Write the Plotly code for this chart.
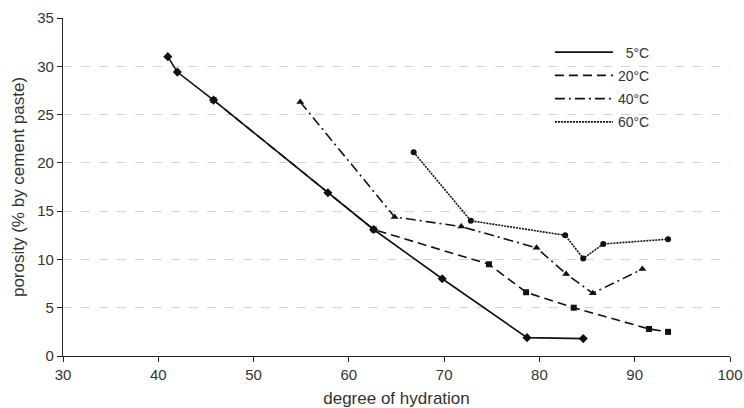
import plotly.graph_objects as go

# degree of hydration (x) and porosity (% by cement paste) for each curing temperature
hyd_5c = [41.0, 42.0, 45.8, 57.8, 62.6, 69.8, 78.7, 84.6]
por_5c = [31.0, 29.4, 26.5, 16.9, 13.1, 8.0, 1.9, 1.8]

hyd_20c = [45.8, 62.6, 74.7, 78.6, 83.6, 91.5, 93.5]
por_20c = [26.5, 13.1, 9.5, 6.6, 5.0, 2.8, 2.5]

hyd_40c = [54.9, 64.8, 71.8, 79.7, 82.8, 85.6, 90.8]
por_40c = [26.3, 14.4, 13.4, 11.2, 8.5, 6.5, 9.0]

hyd_60c = [66.8, 72.8, 82.7, 84.6, 86.7, 93.5]
por_60c = [21.1, 14.0, 12.5, 10.1, 11.6, 12.1]

x_ticks = [30, 40, 50, 60, 70, 80, 90, 100]
y_ticks = [0, 5, 10, 15, 20, 25, 30, 35]

series = [
    ("  5°C", hyd_5c, por_5c, "solid", "diamond", 7),
    ("20°C", hyd_20c, por_20c, "9px,5px", "square", 6),
    ("40°C", hyd_40c, por_40c, "10px,4px,2px,4px", "triangle-up", 7),
    ("60°C", hyd_60c, por_60c, "2px,1px", "circle", 6),
]

fig = go.Figure()
for i, (name, xs, ys, dash, sym, size) in enumerate(series):
    fig.add_trace(go.Scatter(
        x=xs, y=ys, mode="lines+markers", showlegend=False,
        line=dict(color="#111111", width=1.6, dash=dash),
        marker=dict(symbol=sym, size=size, color="#111111"),
    ))
    # line-only entry for the legend, one group each so the rows spread out
    fig.add_trace(go.Scatter(
        x=[None], y=[None], mode="lines", name=name, showlegend=True,
        legendgroup=f"g{i}",
        line=dict(color="#111111", width=1.8, dash=dash),
    ))

font = "Liberation Sans, Arial, sans-serif"
fig.update_layout(
    width=744, height=408,
    margin=dict(l=63, r=14, t=18, b=52, autoexpand=False),
    paper_bgcolor="white", plot_bgcolor="white",
    font=dict(family=font, size=15, color="#333333"),
    legend=dict(
        x=0.73, y=0.945, xanchor="left", yanchor="top",
        bgcolor="rgba(0,0,0,0)", font=dict(size=14, color="#333333"),
        itemwidth=58, tracegroupgap=2,
    ),
    xaxis=dict(
        range=[30, 100], tickvals=x_ticks, showgrid=False, zeroline=False,
        showline=True, linecolor="#222222", linewidth=1.3,
        ticks="outside", ticklen=5, tickcolor="#222222",
        ticklabeloverflow="allow", automargin=False,
        title=dict(text="degree of hydration", font=dict(size=17), standoff=10),
    ),
    yaxis=dict(
        range=[0, 35], tickvals=y_ticks, zeroline=False,
        showgrid=True, gridcolor="#d4d4d4", griddash="dash", gridwidth=1,
        showline=True, linecolor="#222222", linewidth=1.3,
        ticks="outside", ticklen=5, tickcolor="#222222",
        automargin=False,
        title=dict(text="porosity (% by cement paste)", font=dict(size=17), standoff=8),
    ),
)

fig.write_html("out.html")
